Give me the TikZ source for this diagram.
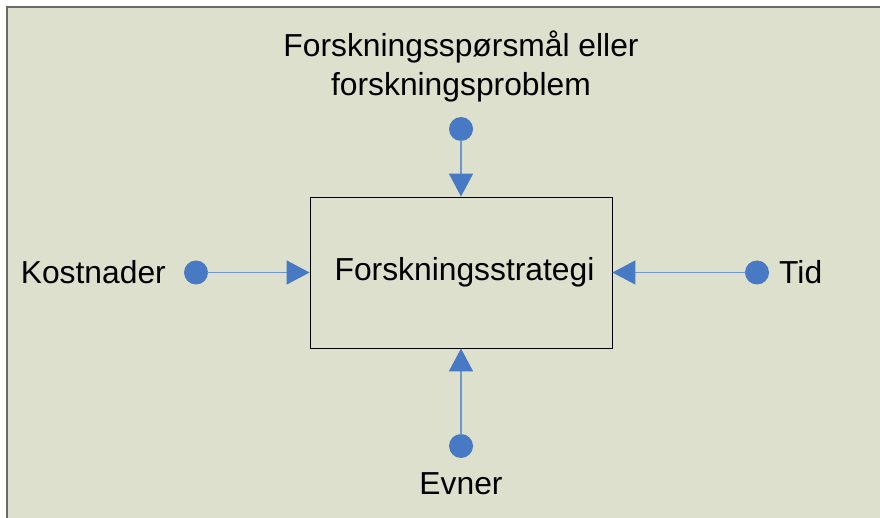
\documentclass[tikz,border=0pt]{standalone}
\usepackage{fontspec}
\setmainfont{Liberation Sans}
\usetikzlibrary{arrows.meta}
\definecolor{panel}{RGB}{221,224,204}
\definecolor{framegray}{RGB}{105,105,105}
\definecolor{dotblue}{RGB}{72,121,196}
\definecolor{lineblue}{RGB}{112,150,208}
\begin{document}
\begin{tikzpicture}[x=1pt,y=-1pt,
  lbl/.style={font=\fontsize{31.8}{38.5}\selectfont, inner sep=0pt, text=black},
  dot/.style={circle, fill=dotblue, minimum size=24pt, inner sep=0pt},
  centerbox/.style={draw=black, line width=0.9pt, minimum width=302pt, minimum height=151pt, inner sep=0pt},
  conn/.style={draw=lineblue, line width=1.6pt, -{Triangle[length=23pt,width=24pt,color=dotblue]}, shorten <=-1pt}
]
\useasboundingbox (0,0) rectangle (880,518);
% backdrop and panel with its top/left edge
\fill[white] (0,0) rectangle (880,518);
\fill[panel] (7,7) rectangle (880,518);
\draw[framegray, line width=2pt] (7,518) -- (7,7) -- (880,7);

% central box
\node[centerbox, lbl] (box) at (461,272.5) {};
\node[lbl] (boxtext) at (464.5,272) {Forskningsstrategi};

% input dots
\node[dot] (dtop) at (461,129) {};
\node[dot] (dleft) at (196,272.5) {};
\node[dot] (dright) at (757,272.5) {};
\node[dot] (dbot) at (461,446) {};

% labels
\node[lbl, align=center] (ltop) at (461,66.5) {Forskningsspørsmål eller\\forskningsproblem};
\node[lbl, anchor=east] (lleft) at (166,272) {Kostnader};
\node[lbl, anchor=west] (lright) at (779,272) {Tid};
\node[lbl] (lbot) at (461,484) {Evner};

% connectors
\draw[conn] (dtop) -- (box.north);
\draw[conn] (dleft) -- (box.west);
\draw[conn] (dright) -- (box.east);
\draw[conn] (dbot) -- (box.south);
\end{tikzpicture}
\end{document}
